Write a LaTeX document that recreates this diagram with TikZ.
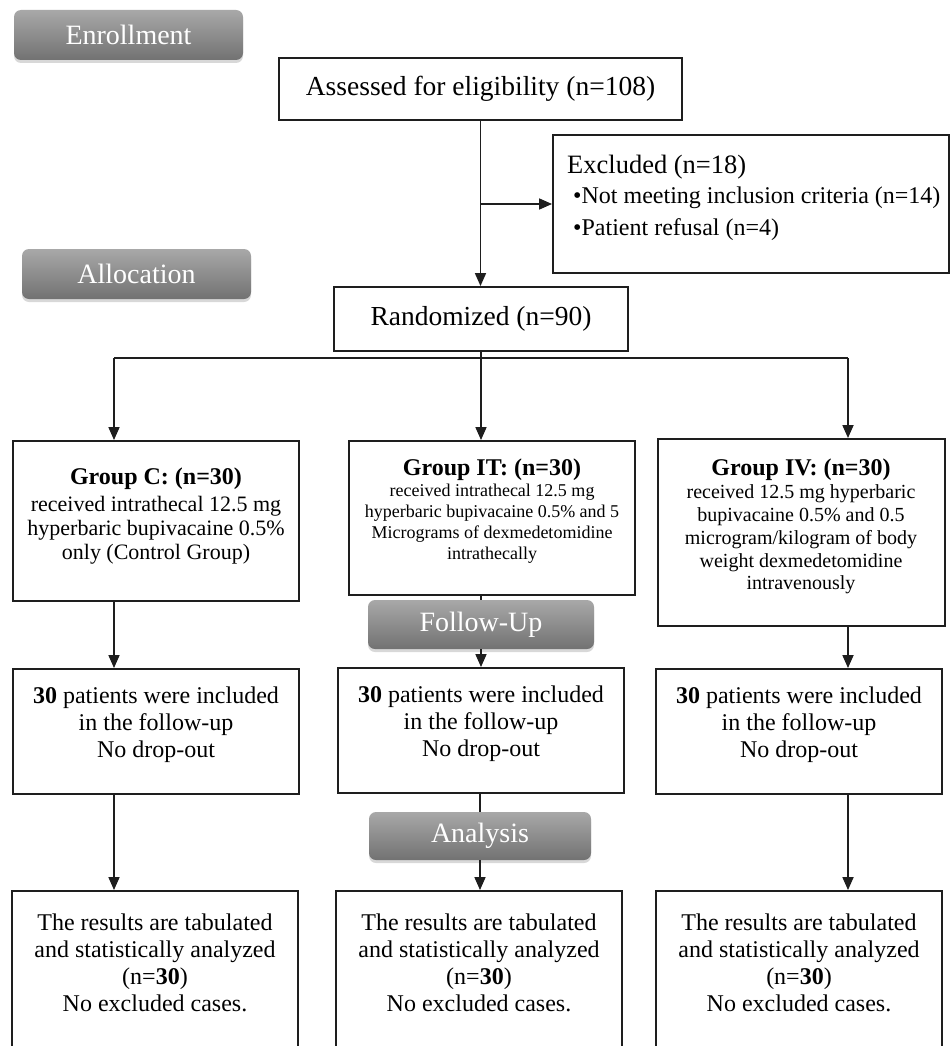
\documentclass[tikz,border=0pt]{standalone}
\usepackage{fontspec}
\setmainfont{Liberation Serif}
\usetikzlibrary{arrows.meta,shadows,calc}
\definecolor{badgetop}{RGB}{168,168,168}
\definecolor{badgebot}{RGB}{114,114,114}
\definecolor{boxline}{RGB}{30,30,30}
\newcommand{\fsz}[2]{\fontsize{#1pt}{#2pt}\selectfont}
\begin{document}
\begin{tikzpicture}[x=1pt,y=-1pt,
  frame/.style={draw=boxline,line width=1.9pt,fill=white,inner sep=0pt},
  txt/.style={inner sep=0pt,align=center,text=black},
  badge/.style={rounded corners=7pt,top color=badgetop,bottom color=badgebot,draw=none,
    text=white,font=\fsz{28}{30},inner sep=0pt,
    drop shadow={opacity=0.3,shadow xshift=0pt,shadow yshift=-3pt}},
  conn/.style={draw=boxline,line width=1.7pt},
  arr/.style={conn,-{Triangle[length=13pt,width=11pt]}}
]
\useasboundingbox (0,0) rectangle (951,1046);
\fill[white] (0,0) rectangle (951,1046);

% top boxes
\node[frame,minimum width=403pt,minimum height=62pt,font=\fsz{27.5}{30}] (assess) at (480.5,89) {Assessed for eligibility (n=108)};
\node[frame,minimum width=396pt,minimum height=138pt] (excl) at (751,204) {};
\node[txt,anchor=west,font=\fsz{26.5}{28}] (exclT) at (567,167) {Excluded (n=18)};
\node[txt,anchor=west,font=\fsz{24}{26}] (exclA) at (573,198) {\textbullet Not meeting inclusion criteria (n=14)};
\node[txt,anchor=west,font=\fsz{24}{26}] (exclB) at (573,230) {\textbullet Patient refusal (n=4)};
\node[frame,minimum width=294pt,minimum height=64pt,font=\fsz{27.5}{30}] (rand) at (481,319) {Randomized (n=90)};

% group boxes
\node[frame,minimum width=286pt,minimum height=160pt] (gc) at (156,521) {};
\node[txt,font=\fsz{24}{26}\bfseries] (gcT) at (156,479) {Group C: (n=30)};
\node[txt,font=\fsz{22}{24}] (gcB) at (156,530) {received intrathecal 12.5 mg\\hyperbaric bupivacaine 0.5\%\\only (Control Group)};

\node[frame,minimum width=286pt,minimum height=154pt] (git) at (492,518) {};
\node[txt,font=\fsz{24}{26}\bfseries] (gitT) at (492,470) {Group IT: (n=30)};
\node[txt,font=\fsz{18}{21}] (gitB) at (492,523.5) {received intrathecal 12.5 mg\\hyperbaric bupivacaine 0.5\% and 5\\Micrograms of dexmedetomidine\\intrathecally};

\node[frame,minimum width=287pt,minimum height=187pt] (giv) at (801.5,532.5) {};
\node[txt,font=\fsz{24}{26}\bfseries] (givT) at (801,470) {Group IV: (n=30)};
\node[txt,font=\fsz{20}{22.8}] (givB) at (801,539.5) {received 12.5 mg hyperbaric\\bupivacaine 0.5\% and 0.5\\microgram/kilogram of body\\weight dexmedetomidine\\intravenously};

% follow-up boxes
\node[frame,minimum width=286pt,minimum height=125pt] (fu1) at (156,731.5) {};
\node[txt,font=\fsz{24}{27}] (fu1T) at (156,725) {\textbf{30} patients were included\\in the follow-up\\No drop-out};
\node[frame,minimum width=286pt,minimum height=125pt] (fu2) at (481,730.5) {};
\node[txt,font=\fsz{24}{27}] (fu2T) at (481,724) {\textbf{30} patients were included\\in the follow-up\\No drop-out};
\node[frame,minimum width=286pt,minimum height=125pt] (fu3) at (799,731.5) {};
\node[txt,font=\fsz{24}{27}] (fu3T) at (799,725) {\textbf{30} patients were included\\in the follow-up\\No drop-out};

% result boxes (cut by the lower edge)
\begin{scope}
\clip (0,0) rectangle (951,1046);
\node[frame,minimum width=286pt,minimum height=210pt] (res1) at (155,996) {};
\node[frame,minimum width=286pt,minimum height=210pt] (res2) at (479,996) {};
\node[frame,minimum width=286pt,minimum height=210pt] (res3) at (799,996) {};
\end{scope}
\node[txt,font=\fsz{24}{27}] (res1T) at (155,962.5) {The results are tabulated\\and statistically analyzed\\(n=\textbf{30})\\No excluded cases.};
\node[txt,font=\fsz{24}{27}] (res2T) at (479,962.5) {The results are tabulated\\and statistically analyzed\\(n=\textbf{30})\\No excluded cases.};
\node[txt,font=\fsz{24}{27}] (res3T) at (799,962.5) {The results are tabulated\\and statistically analyzed\\(n=\textbf{30})\\No excluded cases.};

% connectors
\coordinate (split) at (481,358);
\coordinate (sl) at (114,358);
\coordinate (sr) at (848,358);
\draw[arr] (assess.south) -- (assess.south |- rand.north);
\draw[arr] (assess.south |- excl.west) -- (excl.west);
\draw[conn] (rand.south) -- (split);
\draw[conn] (sl) -- (sr);
\draw[arr] (sl) -- (sl |- gc.north);
\draw[arr] (split) -- (split |- git.north);
\draw[arr] (sr) -- (sr |- giv.north);

% badges
\node[badge,minimum width=229pt,minimum height=50pt] (enroll) at (128.5,35) {Enrollment};
\node[badge,minimum width=229pt,minimum height=50pt] (alloc) at (136.5,274) {Allocation};
\node[badge,minimum width=226pt,minimum height=49pt] (follow) at (481,624.5) {Follow-Up};
\node[badge,minimum width=222pt,minimum height=48pt] (analysis) at (480,836) {Analysis};

\draw[arr] (gc.south -| sl) -- (sl |- fu1.north);
\draw[conn] (git.south -| follow.north) -- (follow.north);
\draw[arr] (follow.south) -- (follow.south |- fu2.north);
\draw[arr] (giv.south -| sr) -- (sr |- fu3.north);
\draw[arr] (fu1.south -| sl) -- (sl |- res1.north);
\draw[conn] (fu2.south -| analysis.north) -- (analysis.north);
\draw[arr] (analysis.south) -- (analysis.south |- res2.north);
\draw[arr] (fu3.south -| sr) -- (sr |- res3.north);
\end{tikzpicture}
\end{document}
